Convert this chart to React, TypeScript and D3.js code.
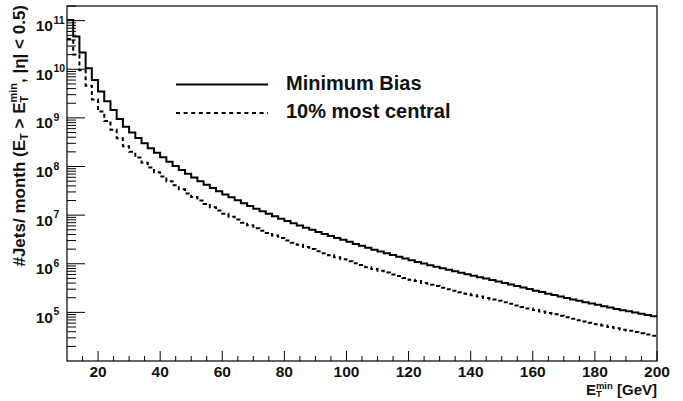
import React from "react";
import * as d3 from "d3";

// bin lower edges (GeV), bin width 2 GeV
const binEdges: number[] = d3.range(10, 200, 2);
const minBias: number[] = [
  1.03e11, 4.7e10, 2.2e10, 1.05e10, 6.0e9, 3.5e9, 2.2e9, 1.46e9, 9.5e8, 6.6e8,
  5.0e8, 3.84e8, 3.0e8, 2.38e8, 1.91e8, 1.55e8, 1.26e8, 1.03e8, 8.5e7, 7.06e7,
  5.92e7, 5.0e7, 4.24e7, 3.62e7, 3.1e7, 2.67e7, 2.32e7, 2.02e7, 1.76e7, 1.55e7,
  1.36e7, 1.2e7, 1.07e7, 9.5e6, 8.47e6, 7.57e6, 6.79e6, 6.11e6, 5.51e6, 4.98e6,
  4.51e6, 4.1e6, 3.73e6, 3.4e6, 3.1e6, 2.82e6, 2.56e6, 2.34e6, 2.13e6, 1.95e6,
  1.79e6, 1.64e6, 1.51e6, 1.39e6, 1.28e6, 1.18e6, 1.09e6, 1.01e6, 9.35e5, 8.68e5,
  8.06e5, 7.49e5, 6.98e5, 6.5e5, 6.06e5, 5.66e5, 5.29e5, 4.95e5, 4.63e5, 4.34e5,
  4.04e5, 3.75e5, 3.48e5, 3.23e5, 3.01e5, 2.8e5, 2.61e5, 2.43e5, 2.27e5, 2.12e5,
  1.98e5, 1.85e5, 1.73e5, 1.62e5, 1.52e5, 1.43e5, 1.34e5, 1.26e5, 1.18e5, 1.11e5,
  1.05e5, 9.89e4, 9.32e4, 8.78e4, 8.3e4,
];
const central: number[] = [
  4.2e10, 2.0e10, 9.5e9, 4.6e9, 2.4e9, 1.35e9, 8.6e8, 5.7e8, 3.8e8, 2.6e8,
  2.0e8, 1.53e8, 1.2e8, 9.5e7, 7.6e7, 6.2e7, 5.0e7, 4.1e7, 3.4e7, 2.8e7,
  2.37e7, 2.0e7, 1.7e7, 1.45e7, 1.24e7, 1.07e7, 9.3e6, 8.1e6, 7.0e6, 6.2e6,
  5.4e6, 4.8e6, 4.3e6, 3.8e6, 3.4e6, 3.0e6, 2.7e6, 2.45e6, 2.2e6, 2.0e6,
  1.8e6, 1.64e6, 1.49e6, 1.36e6, 1.24e6, 1.13e6, 1.02e6, 9.4e5, 8.5e5, 7.8e5,
  7.2e5, 6.6e5, 6.0e5, 5.6e5, 5.1e5, 4.7e5, 4.4e5, 4.0e5, 3.7e5, 3.5e5,
  3.2e5, 3.0e5, 2.8e5, 2.6e5, 2.42e5, 2.26e5, 2.12e5, 1.98e5, 1.85e5, 1.74e5,
  1.62e5, 1.5e5, 1.39e5, 1.29e5, 1.2e5, 1.12e5, 1.04e5, 9.7e4, 9.1e4, 8.5e4,
  7.9e4, 7.4e4, 6.9e4, 6.5e4, 6.1e4, 5.7e4, 5.4e4, 5.0e4, 4.7e4, 4.4e4,
  4.2e4, 3.95e4, 3.7e4, 3.5e4, 3.3e4,
];
const xMajorTicks: number[] = [20, 40, 60, 80, 100, 120, 140, 160, 180, 200];
const yExponents: number[] = [5, 6, 7, 8, 9, 10, 11];
const legendLabels: string[] = ["Minimum Bias", "10% most central"];

const W = 683;
const H = 401;
const L = 67, R = 657, T = 6, B = 361;
const FONT = "'Liberation Sans', Arial, Helvetica, sans-serif";

export default function App() {
  const x = d3.scaleLinear().domain([10, 200]).range([L, R]);
  const y = d3.scaleLog().domain([1e4, 2e11]).range([B, T]);

  const stepLine = d3
    .line<[number, number]>()
    .x((d) => x(d[0]))
    .y((d) => y(d[1]))
    .curve(d3.curveStepAfter);

  const toPts = (vals: number[]): [number, number][] => {
    const pts: [number, number][] = binEdges.map((e, i) => [e, vals[i]]);
    pts.push([200, vals[vals.length - 1]]);
    return pts;
  };

  const yMinor: number[] = [];
  for (let e = 4; e <= 11; e++) {
    for (let k = 2; k <= 9; k++) {
      const v = k * Math.pow(10, e);
      if (v <= 2e11 + 1) yMinor.push(v);
    }
  }
  const xMinor: number[] = d3.range(15, 200, 5).filter((v) => v % 20 !== 0);

  return (
    <svg
      width={W}
      height={H}
      style={{ position: "absolute", left: 0, top: 0, background: "#fff" }}
      fontFamily={FONT}
      fontWeight="bold"
    >
      <rect x={0} y={0} width={W} height={H} fill="#fff" />
      <defs>
        <clipPath id="plotclip">
          <rect x={L} y={T} width={R - L} height={B - T} />
        </clipPath>
      </defs>

      <rect x={L} y={T} width={R - L} height={B - T} fill="none" stroke="#000" strokeWidth={1.2} />

      {yExponents.map((e) => (
        <line key={"ym" + e} x1={L} x2={L + 18} y1={y(Math.pow(10, e))} y2={y(Math.pow(10, e))} stroke="#000" strokeWidth={1} />
      ))}
      {yMinor.map((v, i) => (
        <line key={"yn" + i} x1={L} x2={L + 9} y1={y(v)} y2={y(v)} stroke="#000" strokeWidth={1} />
      ))}
      {yExponents.map((e) => (
        <text key={"yl" + e} x={53} y={y(Math.pow(10, e)) + 10.5} fontSize={15.5} textAnchor="end" fill="#111">
          10
        </text>
      ))}
      {yExponents.map((e) => (
        <text key={"ye" + e} x={53.5} y={y(Math.pow(10, e)) + 3} fontSize={10.5} textAnchor="start" fill="#111">
          {e}
        </text>
      ))}

      {xMajorTicks.map((v) => (
        <line key={"xm" + v} x1={x(v)} x2={x(v)} y1={B} y2={B - 10} stroke="#000" strokeWidth={1} />
      ))}
      {xMinor.map((v) => (
        <line key={"xn" + v} x1={x(v)} x2={x(v)} y1={B} y2={B - 5} stroke="#000" strokeWidth={1} />
      ))}
      {xMajorTicks.map((v) => (
        <text key={"xl" + v} x={x(v)} y={377} fontSize={15.5} textAnchor="middle" fill="#111">
          {v}
        </text>
      ))}

      <text x={657} y={395} fontSize={15} textAnchor="end" fill="#111">
        <tspan>E</tspan>
        <tspan fontSize={9.5} dy={2}>T</tspan>
        <tspan fontSize={9.5} dx={-5.9} dy={-8}>min</tspan>
        <tspan dy={6}> [GeV]</tspan>
      </text>

      <text transform="translate(25,5) rotate(-90)" fontSize={17} textAnchor="end" fill="#111">
        <tspan>#Jets/ month (E</tspan>
        <tspan fontSize={11} dy={3}>T</tspan>
        <tspan dy={-3}> &gt; E</tspan>
        <tspan fontSize={11} dy={3}>T</tspan>
        <tspan fontSize={11} dx={-6.8} dy={-11}>min</tspan>
        <tspan dy={8}>, |η| &lt; 0.5)</tspan>
      </text>

      <g clipPath="url(#plotclip)">
        <path d={stepLine(toPts(minBias)) || ""} fill="none" stroke="#000" strokeWidth={2} />
        <path d={stepLine(toPts(central)) || ""} fill="none" stroke="#000" strokeWidth={2} strokeDasharray="4 3" />
      </g>

      <line x1={176} x2={268} y1={84.5} y2={84.5} stroke="#000" strokeWidth={2} />
      <line x1={176} x2={268} y1={113} y2={113} stroke="#000" strokeWidth={2} strokeDasharray="4 3.6" />
      <text x={286} y={89.5} fontSize={20} fill="#111">{legendLabels[0]}</text>
      <text x={286} y={117.5} fontSize={20} fill="#111">{legendLabels[1]}</text>
    </svg>
  );
}
